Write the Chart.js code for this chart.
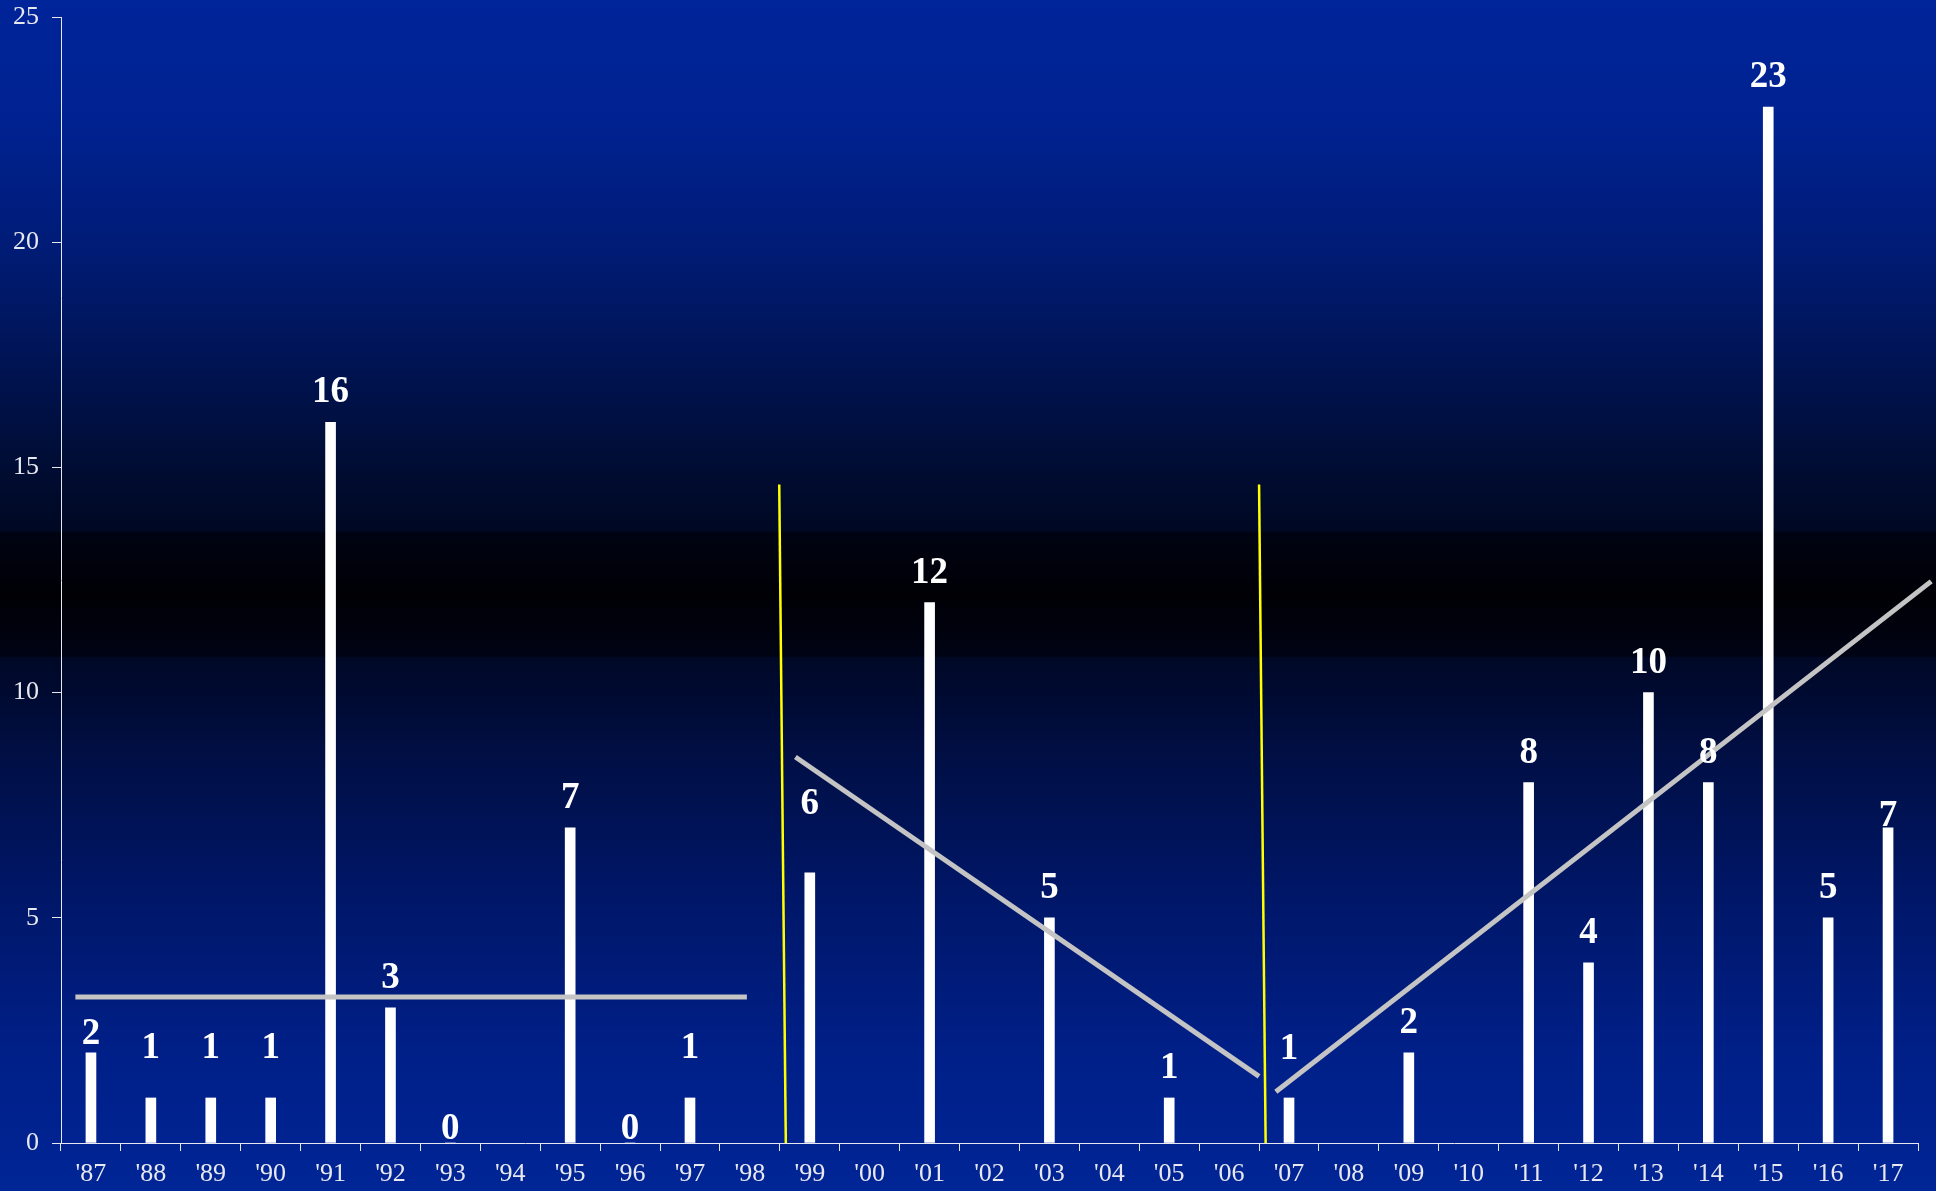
<!DOCTYPE html>
<html>
<head>
<meta charset="utf-8">
<script src="https://cdn.jsdelivr.net/npm/chart.js@4.4.1/dist/chart.umd.min.js"></script>
<style>
  html, body { margin: 0; padding: 0; background: #000; }
  #wrap { width: 1936px; height: 1191px; }
</style>
</head>
<body>
<div id="wrap"><canvas id="chart" width="1936" height="1191"></canvas></div>
<script>
// Yearly counts, 1987-2017
const years = ["'87","'88","'89","'90","'91","'92","'93","'94","'95","'96","'97","'98","'99","'00","'01","'02","'03","'04","'05","'06","'07","'08","'09","'10","'11","'12","'13","'14","'15","'16","'17"];
const counts = [2, 1, 1, 1, 16, 3, 0, null, 7, 0, 1, null, 6, null, 12, null, 5, null, 1, null, 1, null, 2, null, 8, 4, 10, 8, 23, 5, 7];
const yTicks = [0, 5, 10, 15, 20, 25];

// Trend lines per period (x in category-index units)
const trendFlat = [{ x: -0.26, y: 3.24 }, { x: 10.95, y: 3.24 }];
const trendDown = [{ x: 11.76, y: 8.57 }, { x: 19.50, y: 1.48 }];
const trendUp   = [{ x: 19.78, y: 1.14 }, { x: 30.72, y: 12.47 }];

// Period dividers
const dividerA = [{ x: 11.49, y: 14.62 }, { x: 11.60, y: 0 }];
const dividerB = [{ x: 19.50, y: 14.62 }, { x: 19.61, y: 0 }];

// Gap in px between a value label and its bar top (default 20)
const labelGap = { "'87": 9, "'88": 40, "'89": 40, "'90": 40, "'93": 4, "'96": 4, "'97": 40, "'99": 59, "'07": 39, "'17": 2 };

const serif = '"Liberation Serif", "Times New Roman", serif';

const backdrop = {
  id: 'backdrop',
  beforeDraw(chart) {
    const { ctx, width, height } = chart;
    const g = ctx.createLinearGradient(0, 0, 0, height);
    g.addColorStop(0.000, 'rgb(0,36,153)');
    g.addColorStop(0.100, 'rgb(0,34,145)');
    g.addColorStop(0.200, 'rgb(0,28,120)');
    g.addColorStop(0.300, 'rgb(0,20,85)');
    g.addColorStop(0.395, 'rgb(0,12,50)');
    g.addColorStop(0.446, 'rgb(0,8,35)');
    g.addColorStop(0.447, 'rgb(0,3,18)');
    g.addColorStop(0.500, 'rgb(0,0,5)');
    g.addColorStop(0.551, 'rgb(0,3,20)');
    g.addColorStop(0.552, 'rgb(0,8,38)');
    g.addColorStop(0.640, 'rgb(0,15,70)');
    g.addColorStop(0.756, 'rgb(0,23,105)');
    g.addColorStop(0.880, 'rgb(0,31,135)');
    g.addColorStop(1.000, 'rgb(0,37,150)');
    ctx.save();
    ctx.fillStyle = g;
    ctx.fillRect(0, 0, width, height);
    ctx.restore();
  }
};

const valueLabels = {
  id: 'valueLabels',
  afterDatasetsDraw(chart) {
    const { ctx } = chart;
    const meta = chart.getDatasetMeta(0);
    ctx.save();
    ctx.fillStyle = '#ffffff';
    ctx.font = 'bold 37px ' + serif;
    ctx.textAlign = 'center';
    ctx.textBaseline = 'alphabetic';
    meta.data.forEach((bar, i) => {
      const v = counts[i];
      if (v === null || v === undefined) return;
      const gap = labelGap[years[i]] !== undefined ? labelGap[years[i]] : 20;
      ctx.fillText(String(v), bar.x, bar.y - gap);
    });
    ctx.restore();
  }
};

const lineStyle = (color, width) => ({
  type: 'line',
  xAxisID: 'x2',
  borderColor: color,
  borderWidth: width,
  borderCapStyle: 'butt',
  pointRadius: 0,
  tension: 0,
  fill: false,
  clip: false,
  order: 0
});

new Chart(document.getElementById('chart'), {
  type: 'bar',
  data: {
    labels: years,
    datasets: [
      {
        data: counts,
        backgroundColor: '#ffffff',
        borderWidth: 0,
        grouped: false,
        barThickness: 10,
        maxBarThickness: 10,
        order: 1
      },
      Object.assign(lineStyle('#c4c4c4', 5), { data: trendFlat }),
      Object.assign(lineStyle('#c4c4c4', 5), { data: trendDown }),
      Object.assign(lineStyle('#c4c4c4', 5), { data: trendUp }),
      Object.assign(lineStyle('#ffff00', 2.5), { data: dividerA }),
      Object.assign(lineStyle('#ffff00', 2.5), { data: dividerB })
    ]
  },
  options: {
    responsive: false,
    devicePixelRatio: 1,
    animation: false,
    layout: { padding: { top: 17, right: 18, left: 0, bottom: 0 } },
    plugins: { legend: { display: false }, tooltip: { enabled: false } },
    scales: {
      x: {
        type: 'category',
        position: 'bottom',
        offset: true,
        grid: { offset: true, drawOnChartArea: false, drawTicks: true, tickLength: 8, color: '#e8e8f0', lineWidth: 1 },
        border: { display: true, color: '#e8e8f0', width: 1 },
        ticks: { color: '#e8e8f0', font: { family: serif, size: 26 }, padding: 8, maxRotation: 0, autoSkip: false },
        afterFit(scale) { scale.height = 48; scale.paddingLeft = 0; scale.paddingRight = 0; }
      },
      x2: {
        type: 'linear',
        position: 'bottom',
        offset: false,
        min: -0.5,
        max: 30.5,
        grid: { display: false, drawTicks: false },
        border: { display: false },
        ticks: { display: false },
        afterFit(scale) { scale.height = 0; }
      },
      y: {
        min: 0,
        max: 25,
        afterBuildTicks(scale) { scale.ticks = yTicks.map(v => ({ value: v })); },
        grid: { drawOnChartArea: false, drawTicks: true, tickLength: 9, color: '#e8e8f0', lineWidth: 1 },
        border: { display: true, color: '#e8e8f0', width: 1 },
        ticks: { color: '#e8e8f0', font: { family: serif, size: 26 }, padding: 13 },
        afterFit(scale) { scale.width = 61; scale.paddingTop = 0; scale.paddingBottom = 0; }
      }
    }
  },
  plugins: [backdrop, valueLabels]
});
</script>
</body>
</html>
